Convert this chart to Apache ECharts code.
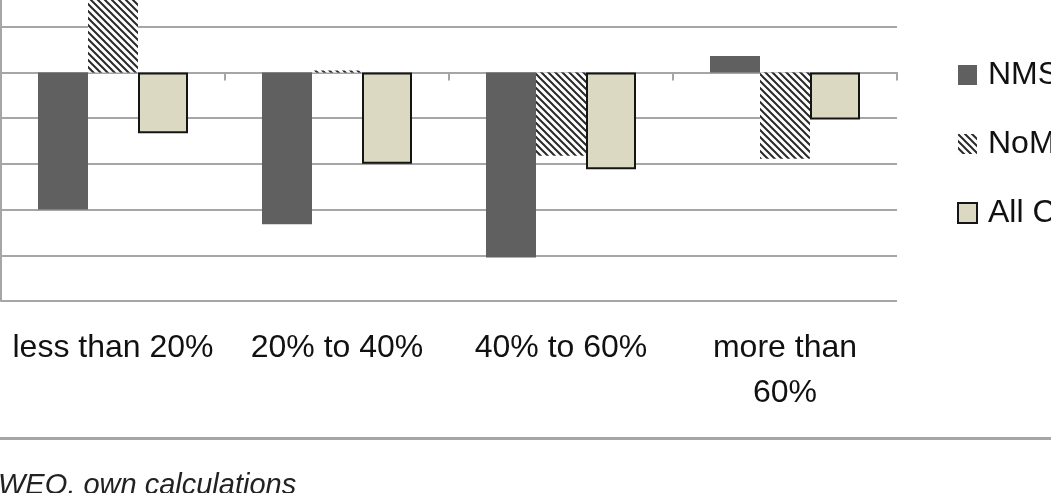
<!DOCTYPE html>
<html>
<head>
<meta charset="utf-8">
<script src="https://cdn.jsdelivr.net/npm/echarts@6/dist/echarts.min.js"></script>
<style>
  html, body { margin: 0; padding: 0; background: #fff; }
  #chart { width: 1051px; height: 493px; }
</style>
</head>
<body>
<div id="chart"></div>
<script>
// categories and values (one gridline = 1 unit)
const categories = ["less than 20%", "20% to 40%", "40% to 60%", "more than\n60%"];
const seriesNames = ["NMS", "NoMS", "All Countries"];
const nmsValues = [-3.0, -3.32, -4.05, 0.36];
const nomsValues = [1.9, 0.04, -1.82, -1.89];
const allValues = [-1.33, -2.0, -2.12, -1.03];
const footerText = "WEO, own calculations";

const FONT = '"Liberation Sans", "DejaVu Sans", sans-serif';

// diagonal hatch for the NoMS series
function makeHatch() {
  const s = 7;
  const c = document.createElement("canvas");
  c.width = s;
  c.height = s;
  const ctx = c.getContext("2d");
  ctx.fillStyle = "#fff";
  ctx.fillRect(0, 0, s, s);
  ctx.strokeStyle = "#2a2a2a";
  ctx.lineWidth = 2;
  ctx.beginPath();
  ctx.moveTo(-1, -1); ctx.lineTo(s + 1, s + 1);
  ctx.moveTo(-1, s - 1); ctx.lineTo(1, s + 1);
  ctx.moveTo(s - 1, -1); ctx.lineTo(s + 1, 1);
  ctx.stroke();
  return c;
}

const chart = echarts.init(document.getElementById("chart"));

const option = {
  animation: false,
  grid: {
    left: 1, right: 154, top: -19, bottom: 192,
    containLabel: false,
    outerBoundsMode: "none"
  },
  legend: {
    orient: "vertical",
    left: 957,
    top: 55,
    padding: 0,
    icon: "rect",
    itemWidth: 19,
    itemHeight: 20,
    itemGap: 29,
    textStyle: { fontFamily: FONT, fontSize: 32, lineHeight: 40, color: "#111", padding: [0, 0, 0, 6] },
    data: seriesNames
  },
  xAxis: [
    {
      type: "category",
      data: categories,
      position: "bottom",
      axisLine: { show: false, onZero: false },
      axisTick: { show: false },
      axisLabel: {
        interval: 0,
        margin: 25,
        fontFamily: FONT,
        fontSize: 32,
        lineHeight: 45,
        color: "#111"
      }
    },
    {
      type: "category",
      data: categories,
      position: "bottom",
      axisLine: { onZero: true, lineStyle: { color: "#a6a6a6", width: 2 } },
      axisTick: { show: true, length: 8, lineStyle: { color: "#a6a6a6", width: 2 } },
      axisLabel: { show: false }
    }
  ],
  yAxis: {
    type: "value",
    min: -5,
    max: 2,
    interval: 1,
    axisLine: { show: true, lineStyle: { color: "#a6a6a6", width: 2 } },
    axisTick: { show: false },
    axisLabel: { show: false },
    splitLine: { lineStyle: { color: "#a6a6a6", width: 2 } }
  },
  series: [
    {
      name: seriesNames[0],
      type: "bar",
      data: nmsValues,
      barWidth: 50,
      barGap: "0%",
      itemStyle: { color: "#606060" }
    },
    {
      name: seriesNames[1],
      type: "bar",
      data: nomsValues,
      barWidth: 50,
      barGap: "0%",
      itemStyle: { color: { image: makeHatch(), repeat: "repeat" } }
    },
    {
      name: seriesNames[2],
      type: "bar",
      data: allValues,
      barWidth: 50,
      barGap: "0%",
      itemStyle: { color: "#dcd9c2", borderColor: "#151515", borderWidth: 2 }
    }
  ],
  graphic: [
    {
      type: "rect",
      shape: { x: 0, y: 437, width: 1051, height: 3 },
      style: { fill: "#a6a6a6" }
    },
    {
      type: "text",
      left: -2,
      top: 471,
      style: {
        text: footerText,
        fontFamily: FONT,
        fontStyle: "italic",
        fontSize: 29,
        fill: "#222"
      }
    }
  ]
};

chart.setOption(option);
</script>
</body>
</html>
